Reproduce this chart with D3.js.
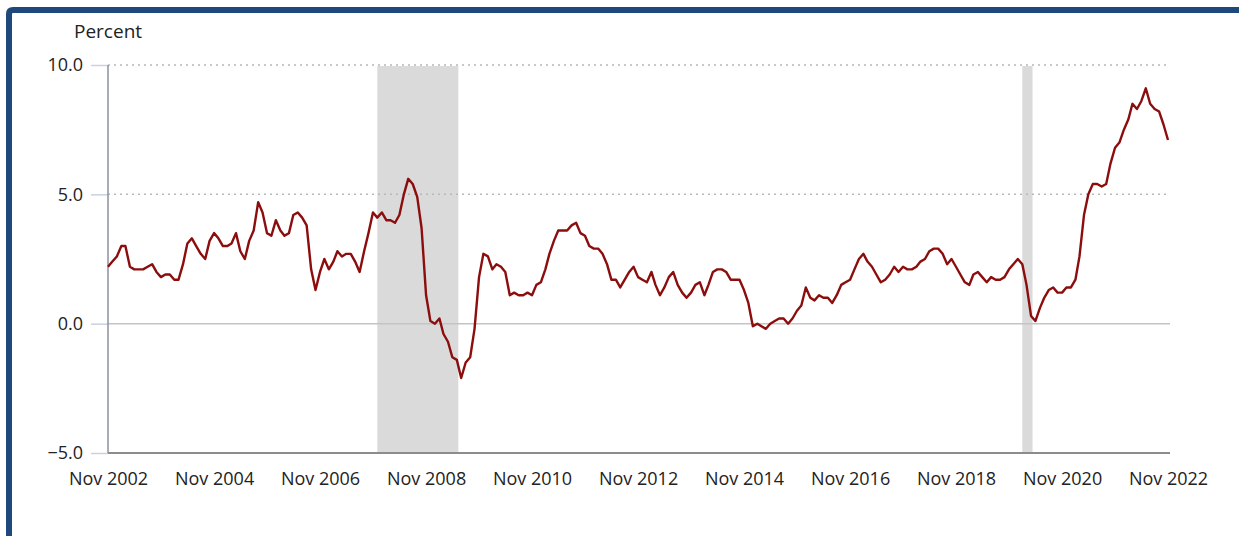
<!DOCTYPE html>
<html>
<head>
<meta charset="utf-8">
<script src="https://cdn.jsdelivr.net/npm/d3@7"></script>
<style>
  body { margin: 0; background: #fff; }
  text { font-family: "Open Sans", "Noto Sans", sans-serif; fill: #222; }
</style>
</head>
<body>
<div id="chart"></div>
<script>
// first month of the series
let startMonth = "2002-11"

// 12-month percent change, monthly from Nov 2002 to Nov 2022
let pctChange = [
    2.2, 2.4,                                                   // 2002
    2.6, 3.0, 3.0, 2.2, 2.1, 2.1, 2.1, 2.2, 2.3, 2.0, 1.8, 1.9, // 2003
    1.9, 1.7, 1.7, 2.3, 3.1, 3.3, 3.0, 2.7, 2.5, 3.2, 3.5, 3.3, // 2004
    3.0, 3.0, 3.1, 3.5, 2.8, 2.5, 3.2, 3.6, 4.7, 4.3, 3.5, 3.4, // 2005
    4.0, 3.6, 3.4, 3.5, 4.2, 4.3, 4.1, 3.8, 2.1, 1.3, 2.0, 2.5, // 2006
    2.1, 2.4, 2.8, 2.6, 2.7, 2.7, 2.4, 2.0, 2.8, 3.5, 4.3, 4.1, // 2007
    4.3, 4.0, 4.0, 3.9, 4.2, 5.0, 5.6, 5.4, 4.9, 3.7, 1.1, 0.1, // 2008
    0.0, 0.2, -0.4, -0.7, -1.3, -1.4, -2.1, -1.5, -1.3, -0.2, 1.8, 2.7, // 2009
    2.6, 2.1, 2.3, 2.2, 2.0, 1.1, 1.2, 1.1, 1.1, 1.2, 1.1, 1.5, // 2010
    1.6, 2.1, 2.7, 3.2, 3.6, 3.6, 3.6, 3.8, 3.9, 3.5, 3.4, 3.0, // 2011
    2.9, 2.9, 2.7, 2.3, 1.7, 1.7, 1.4, 1.7, 2.0, 2.2, 1.8, 1.7, // 2012
    1.6, 2.0, 1.5, 1.1, 1.4, 1.8, 2.0, 1.5, 1.2, 1.0, 1.2, 1.5, // 2013
    1.6, 1.1, 1.5, 2.0, 2.1, 2.1, 2.0, 1.7, 1.7, 1.7, 1.3, 0.8, // 2014
    -0.1, 0.0, -0.1, -0.2, 0.0, 0.1, 0.2, 0.2, 0.0, 0.2, 0.5, 0.7, // 2015
    1.4, 1.0, 0.9, 1.1, 1.0, 1.0, 0.8, 1.1, 1.5, 1.6, 1.7, 2.1, // 2016
    2.5, 2.7, 2.4, 2.2, 1.9, 1.6, 1.7, 1.9, 2.2, 2.0, 2.2, 2.1, // 2017
    2.1, 2.2, 2.4, 2.5, 2.8, 2.9, 2.9, 2.7, 2.3, 2.5, 2.2, 1.9, // 2018
    1.6, 1.5, 1.9, 2.0, 1.8, 1.6, 1.8, 1.7, 1.7, 1.8, 2.1, 2.3, // 2019
    2.5, 2.3, 1.5, 0.3, 0.1, 0.6, 1.0, 1.3, 1.4, 1.2, 1.2, 1.4, // 2020
    1.4, 1.7, 2.6, 4.2, 5.0, 5.4, 5.4, 5.3, 5.4, 6.2, 6.8, 7.0, // 2021
    7.5, 7.9, 8.5, 8.3, 8.6, 9.1, 8.5, 8.3, 8.2, 7.7, 7.1       // 2022
]

// recession periods (shaded)
let recessionStarts = ["2007-12", "2020-02"]
let recessionEnds = ["2009-06", "2020-04"]

// axis ticks
let xTickMonths = ["2002-11", "2004-11", "2006-11", "2008-11", "2010-11", "2012-11",
    "2014-11", "2016-11", "2018-11", "2020-11", "2022-11"]
let yTicks = [-5, 0, 5, 10]
let yLabel = "Percent"

let lineColor = "#8b0d0d"
let frameColor = "#1f497d"

let totalWidth = 1239, totalHeight = 536
let margin = {top: 65, right: 71, bottom: 83, left: 108},
    width = totalWidth - margin.left - margin.right,
    height = totalHeight - margin.top - margin.bottom;

let parseMonth = d3.timeParse("%Y-%m")
let fmtTick = d3.timeFormat("%b %Y")

let start = parseMonth(startMonth)
let data = pctChange.map(function(v, i) {
    return {date: d3.timeMonth.offset(start, i), value: v}
})

let svg = d3.select("#chart")
    .append("svg")
    .attr("width", totalWidth)
    .attr("height", totalHeight)

// blue frame round the chart
svg.append("path")
    .attr("d", "M9,540 L9,14 Q9,10 13,10 L1245,10")
    .attr("fill", "none")
    .attr("stroke", frameColor)
    .attr("stroke-width", 6)

let g = svg.append("g")
    .attr("transform", "translate(" + margin.left + "," + margin.top + ")")

let x = d3.scaleTime()
    .domain([start, data[data.length - 1].date])
    .range([0, width])

let y = d3.scaleLinear()
    .domain([-5, 10])
    .range([height, 0])

// recession shading
g.selectAll(".recession")
    .data(recessionStarts.map(function(s, i) { return [parseMonth(s), parseMonth(recessionEnds[i])] }))
    .enter()
    .append("rect")
    .attr("x", function(d) { return x(d[0]) })
    .attr("width", function(d) { return x(d[1]) - x(d[0]) + 1.5 })
    .attr("y", y(10) + 1)
    .attr("height", y(-5) - y(10) - 1)
    .style("fill", "#dadada")

// dotted grid lines at the positive ticks
g.selectAll(".grid")
    .data(yTicks.filter(function(d) { return d > 0 }))
    .enter()
    .append("line")
    .attr("x1", 0)
    .attr("x2", width + 2)
    .attr("y1", function(d) { return y(d) })
    .attr("y2", function(d) { return y(d) })
    .style("stroke", "#b8b8b8")
    .style("stroke-width", 1.5)
    .style("stroke-dasharray", "2,4")

// zero line
g.append("line")
    .attr("x1", 0)
    .attr("x2", width + 2)
    .attr("y1", y(0))
    .attr("y2", y(0))
    .style("stroke", "#c4c4c4")
    .style("stroke-width", 1.5)

// y axis
let yAxis = g.append("g")
    .call(d3.axisLeft(y).tickValues(yTicks).tickFormat(d3.format(".1f")).tickSize(17).tickPadding(8))
yAxis.select(".domain").remove()
yAxis.selectAll(".tick line").style("stroke", "#c9d2e3").style("stroke-width", 1.5)
yAxis.selectAll(".tick text").style("font-size", "18px").style("fill", "#222")
g.append("line")
    .attr("x1", 0).attr("x2", 0)
    .attr("y1", y(10)).attr("y2", y(-5))
    .style("stroke", "#8a90a0")
    .style("stroke-width", 1.5)

// x axis
let xAxis = g.append("g")
    .attr("transform", "translate(0," + height + ")")
    .call(d3.axisBottom(x).tickValues(xTickMonths.map(parseMonth)).tickFormat(fmtTick).tickSize(0).tickPadding(19))
xAxis.select(".domain").remove()
xAxis.selectAll(".tick text").style("font-size", "18px").style("fill", "#222")
g.append("line")
    .attr("x1", 0).attr("x2", width + 2)
    .attr("y1", height).attr("y2", height)
    .style("stroke", "#8c8c8c")
    .style("stroke-width", 2)

// y axis label
svg.append("text")
    .attr("x", 74)
    .attr("y", 38)
    .style("font-size", "19px")
    .text(yLabel)

// the data line
let line = d3.line()
    .x(function(d) { return x(d.date) })
    .y(function(d) { return y(d.value) })

g.append("path")
    .datum(data)
    .attr("d", line)
    .attr("fill", "none")
    .attr("stroke", lineColor)
    .attr("stroke-width", 2.4)
    .attr("stroke-linejoin", "round")
</script>
</body>
</html>
